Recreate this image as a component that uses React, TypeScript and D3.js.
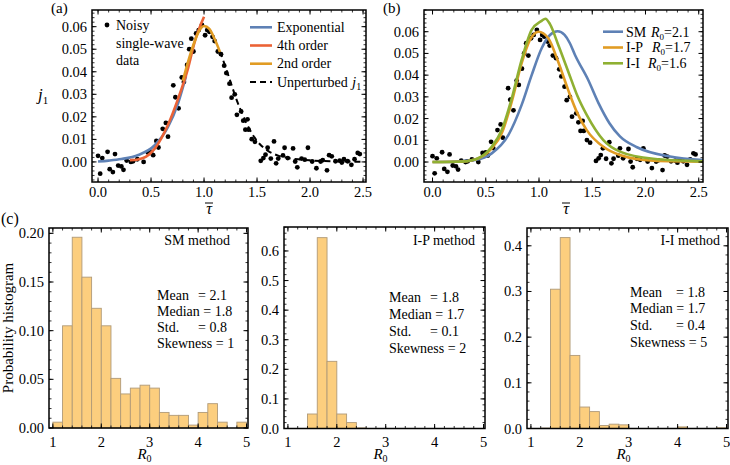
import React from 'react';
import * as d3 from 'd3';

const FONT = '"Liberation Serif", "Times New Roman", Times, serif';
const C_BLUE = '#5e81b5';
const C_ORANGE = '#e19c24';
const C_GREEN = '#8fb032';
const C_RED = '#eb6235';
const BAR_FILL = '#fcce7e';
const BAR_EDGE = '#b09a78';

// noisy single-wave data, shared by (a) and (b)
const NOISY_TAU = [
  0.0, 0.02, 0.04, 0.09, 0.11, 0.14, 0.16, 0.19, 0.22, 0.24, 0.27, 0.31, 0.33, 0.37, 0.43,
  0.47, 0.5, 0.52, 0.55, 0.57, 0.61, 0.64, 0.66, 0.71, 0.73, 0.76, 0.79, 0.81, 0.84, 0.86,
  0.88, 0.9, 0.925, 0.95, 0.98, 1.01, 1.03, 1.05, 1.08, 1.1, 1.13, 1.16, 1.19, 1.21, 1.24,
  1.26, 1.29, 1.31, 1.35, 1.37, 1.39, 1.41, 1.42, 1.45, 1.48, 1.535, 1.56, 1.58, 1.6, 1.63,
  1.66, 1.68, 1.7, 1.745, 1.76, 1.79, 1.84, 1.86, 1.88, 1.92, 1.95, 1.98, 2.02, 2.06, 2.1,
  2.12, 2.16, 2.18, 2.205, 2.24, 2.28, 2.3, 2.32, 2.355, 2.39, 2.42, 2.45, 2.47,
];
const NOISY_J = [
  0.0027, -0.0052, 0.0017, 0.0045, -0.0032, -0.0045, 0.0035, -0.0016, -0.002, -0.0035, 0.0006, 0.0, 0.0003, 0.0012, 0.0,
  0.0042, 0.0044, 0.003, 0.0093, 0.0064, 0.0147, 0.0173, 0.0112, 0.034, 0.0287, 0.0238, 0.0375, 0.0355, 0.043, 0.05,
  0.0547, 0.049, 0.057, 0.0585, 0.0608, 0.0562, 0.0585, 0.0577, 0.0555, 0.0536, 0.049, 0.0478, 0.0427, 0.0394, 0.0347,
  0.0285, 0.03, 0.0209, 0.0224, 0.0183, 0.0143, 0.0189, 0.0143, 0.0101, 0.0089, 0.0005, 0.0017, 0.0032, 0.0063, 0.0015,
  0.0091, -0.0006, 0.0015, 0.0029, 0.0063, 0.0017, 0.006, 0.0002, -0.0024, 0.0015, 0.001, 0.0063, 0.0002, -0.0028, 0.0002,
  0.0008, -0.0037, 0.003, 0.0025, 0.0003, 0.0006, -0.0003, 0.0012, 0.0003, -0.0013, 0.0012, 0.004, 0.0035,
];

// (a) fitted curves
const EXP_TAU = [0.0, 0.1, 0.22, 0.38, 0.535, 0.66, 0.755, 0.83];
const EXP_J = [0.0002, 0.0006, 0.0013, 0.0031, 0.0074, 0.0155, 0.026, 0.038];
const ORD4_TAU = [0.3, 0.377, 0.45, 0.535, 0.66, 0.755, 0.849, 0.912, 1.0];
const ORD4_J = [0.0008, 0.0011, 0.0022, 0.0059, 0.0165, 0.028, 0.0415, 0.0533, 0.0644];
const ORD2_TAU = [0.8, 0.85, 0.9, 0.95, 1.0, 1.05, 1.1, 1.15];
const ORD2_J = [0.036, 0.0445, 0.052, 0.0578, 0.0603, 0.059, 0.0545, 0.0488];
const UNPERT_TAU = [1.15, 1.2, 1.25, 1.3, 1.35, 1.4, 1.45, 1.5, 1.6, 1.7, 1.8, 1.9, 2.0, 2.2, 2.5];
const UNPERT_J = [0.049, 0.0425, 0.0355, 0.0285, 0.0225, 0.0172, 0.0128, 0.0093, 0.005, 0.0028, 0.0017, 0.0011, 0.0007, 0.0003, 0.0001];

// (b) model curves
const SM_TAU = [0, 0.2, 0.4, 0.556, 0.712, 0.837, 0.931, 1.025, 1.103, 1.175, 1.24, 1.29, 1.338, 1.46, 1.56, 1.66, 1.76, 1.92, 2.23, 2.54];
const SM_J = [0, 0.0002, 0.001, 0.004, 0.0124, 0.0263, 0.04, 0.0524, 0.0585, 0.0602, 0.0585, 0.0547, 0.0493, 0.038, 0.027, 0.018, 0.0118, 0.0068, 0.0025, 0.0009];
const IP_TAU = [0, 0.243, 0.4, 0.556, 0.65, 0.744, 0.837, 0.915, 0.995, 1.087, 1.18, 1.275, 1.36, 1.448, 1.604, 1.76, 2.073, 2.54];
const IP_J = [0, 0.0001, 0.0012, 0.0063, 0.0132, 0.0278, 0.0455, 0.0562, 0.06, 0.057, 0.0462, 0.033, 0.0225, 0.0147, 0.007, 0.0032, 0.0006, 0.0002];
const II_TAU = [0, 0.243, 0.4, 0.556, 0.65, 0.744, 0.837, 0.931, 1.025, 1.06, 1.103, 1.18, 1.275, 1.36, 1.448, 1.604, 1.76, 2.073, 2.54];
const II_J = [0, 0.0001, 0.0012, 0.007, 0.0147, 0.0293, 0.047, 0.0608, 0.065, 0.066, 0.0635, 0.054, 0.0416, 0.0305, 0.0217, 0.0101, 0.0048, 0.0015, 0.0003];

// (c) histograms of R0
const BIN_START = [1.0, 1.2, 1.4, 1.6, 1.8, 2.0, 2.2, 2.4, 2.6, 2.8, 3.0, 3.2, 3.4, 3.6, 3.8, 4.0, 4.2, 4.4, 4.6, 4.8];
const BIN_WIDTH = 0.2;
const HIST_SM = [0.006, 0.105, 0.196, 0.155, 0.123, 0.105, 0.051, 0.035, 0.041, 0.044, 0.041, 0.016, 0.013, 0.013, 0.003, 0.016, 0.025, 0.006, 0, 0.006];
const HIST_IP = [0, 0, 0.049, 0.645, 0.227, 0.049, 0.02, 0.002, 0, 0, 0, 0, 0, 0, 0, 0, 0, 0, 0, 0];
const HIST_II = [0, 0.001, 0.305, 0.418, 0.16, 0.047, 0.037, 0.0065, 0.0095, 0.008, 0, 0, 0, 0, 0, 0.0035, 0, 0, 0, 0.0015];

const STAT_NAMES = ['Mean', 'Median', 'Std.', 'Skewness'];
const STATS_SM = ['2.1', '1.8', '0.8', '1'];
const STATS_IP = ['1.8', '1.7', '0.1', '2'];
const STATS_II = ['1.8', '1.7', '0.4', '5'];

const TAU_TICKS = [0, 0.5, 1, 1.5, 2, 2.5];
const J_TICKS = [0, 0.01, 0.02, 0.03, 0.04, 0.05, 0.06];
const R_TICKS = [1, 2, 3, 4, 5];
const P_TICKS_SM = [0, 0.05, 0.1, 0.15, 0.2];
const P_TICKS_IP = [0, 0.1, 0.2, 0.3, 0.4, 0.5, 0.6];
const P_TICKS_II = [0, 0.1, 0.2, 0.3, 0.4];

type Scale = d3.ScaleLinear<number, number>;

function minorTicks(s: Scale, step: number) {
  const [a, b] = s.domain();
  const start = Math.ceil(a / step - 1e-6);
  const end = Math.floor(b / step + 1e-6);
  return d3.range(start, end + 1).map((k) => k * step);
}

function Frame({ x, y, xTicks, yTicks, xMinor, yMinor, xFmt, yFmt, xLabY }: {
  x: Scale; y: Scale; xTicks: number[]; yTicks: number[]; xMinor: number; yMinor: number;
  xFmt: (v: number) => string; yFmt: (v: number) => string; xLabY: number;
}) {
  const [x0, x1] = x.range();
  const [yb, yt] = y.range();
  const ml = 2.5, mj = 4.5;
  return (
    <g>
      {minorTicks(x, xMinor).map((v, i) => (
        <g key={'xm' + i} stroke="#000" strokeWidth={0.8}>
          <line x1={x(v)} x2={x(v)} y1={yb} y2={yb - ml} />
          <line x1={x(v)} x2={x(v)} y1={yt} y2={yt + ml} />
        </g>
      ))}
      {minorTicks(y, yMinor).map((v, i) => (
        <g key={'ym' + i} stroke="#000" strokeWidth={0.8}>
          <line x1={x0} x2={x0 + ml} y1={y(v)} y2={y(v)} />
          <line x1={x1} x2={x1 - ml} y1={y(v)} y2={y(v)} />
        </g>
      ))}
      {xTicks.map((v, i) => (
        <g key={'xt' + i}>
          <line x1={x(v)} x2={x(v)} y1={yb} y2={yb - mj} stroke="#000" />
          <line x1={x(v)} x2={x(v)} y1={yt} y2={yt + mj} stroke="#000" />
          <text x={x(v)} y={xLabY} textAnchor="middle" fontSize={14.5}>{xFmt(v)}</text>
        </g>
      ))}
      {yTicks.map((v, i) => (
        <g key={'yt' + i}>
          <line x1={x0} x2={x0 + mj} y1={y(v)} y2={y(v)} stroke="#000" />
          <line x1={x1} x2={x1 - mj} y1={y(v)} y2={y(v)} stroke="#000" />
          <text x={x0 - 5} y={y(v) + 5} textAnchor="end" fontSize={14.5}>{yFmt(v)}</text>
        </g>
      ))}
      <rect x={x0} y={yt} width={x1 - x0} height={yb - yt} fill="none" stroke="#000" strokeWidth={1.5} />
    </g>
  );
}

function curve(x: Scale, y: Scale, ts: number[], js: number[]) {
  return d3.line<number>()
    .x((t) => x(t))
    .y((_, i) => y(js[i]))
    .curve(d3.curveMonotoneX)(ts) as string;
}

function TauLabel({ cx }: { cx: number }) {
  return (
    <g>
      <text x={cx} y={214} textAnchor="middle" fontSize={16} fontStyle="italic">τ</text>
      <line x1={cx - 4} x2={cx + 4} y1={203} y2={203} stroke="#000" strokeWidth={1} />
    </g>
  );
}

function Dots({ x, y }: { x: Scale; y: Scale }) {
  return (
    <g>
      {NOISY_TAU.map((t, i) => (
        <circle key={i} cx={x(t)} cy={y(NOISY_J[i])} r={2.4} fill="#000" />
      ))}
    </g>
  );
}

function Hist({ x, y, values, ticks, yFmt, yMinor, title, titleX, statX, eqDx, rows, stats }: {
  x: Scale; y: Scale; values: number[]; ticks: number[]; yFmt: (v: number) => string; yMinor: number;
  title: string; titleX: number; statX: number; eqDx: number; rows: number[]; stats: string[];
}) {
  const [x0, x1] = x.range();
  return (
    <g>
      {values.map((v, i) => v > 0 && (
        <rect key={i} x={x(BIN_START[i])} width={x(BIN_START[i] + BIN_WIDTH) - x(BIN_START[i])}
          y={y(v)} height={y(0) - y(v)} fill={BAR_FILL} stroke={BAR_EDGE} strokeWidth={0.9} />
      ))}
      <Frame x={x} y={y} xTicks={R_TICKS} yTicks={ticks} xMinor={0.2} yMinor={yMinor}
        xFmt={(v) => String(v)} yFmt={yFmt} xLabY={447} />
      <text x={titleX} y={245} textAnchor="end" fontSize={14}>{title}</text>
      {STAT_NAMES.map((n, i) => (
        i === 0 || i === 2 ? (
          <g key={n}>
            <text x={statX} y={rows[i]} fontSize={14}>{n}</text>
            <text x={statX + eqDx} y={rows[i]} fontSize={14}>= {stats[i]}</text>
          </g>
        ) : (
          <text key={n} x={statX} y={rows[i]} fontSize={14}>{n} = {stats[i]}</text>
        )
      ))}
      <text x={(x0 + x1) / 2 - 4} y={459} fontSize={15} textAnchor="middle" fontStyle="italic">
        R<tspan fontSize={10} dy={3} fontStyle="normal">0</tspan>
      </text>
    </g>
  );
}

export default function App() {
  const xA = d3.scaleLinear().domain([-0.057, 2.528]).range([92, 366]);
  const yA = d3.scaleLinear().domain([-0.0089, 0.0674]).range([182, 10]);
  const xB = d3.scaleLinear().domain([-0.08, 2.54]).range([424, 703]);
  const yB = d3.scaleLinear().domain([-0.0092, 0.07]).range([182, 10]);

  const xC1 = d3.scaleLinear().domain([0.92, 5.03]).range([49, 248]);
  const yC1 = d3.scaleLinear().domain([0, 0.2055]).range([428, 228]);
  const xC2 = d3.scaleLinear().domain([0.92, 5.03]).range([284, 485]);
  const yC2 = d3.scaleLinear().domain([0, 0.681]).range([428.5, 227]);
  const xC3 = d3.scaleLinear().domain([0.92, 5.03]).range([527, 728]);
  const yC3 = d3.scaleLinear().domain([0, 0.439]).range([428.5, 228]);

  const f2 = d3.format('.2f');
  const f1 = d3.format('.1f');

  return (
    <svg width={730} height={465} style={{ position: 'absolute', left: 0, top: 0, background: '#fff' }}
      fontFamily={FONT} fill="#000">
      <defs>
        <clipPath id="clipA"><rect x={92} y={10} width={274} height={172} /></clipPath>
        <clipPath id="clipB"><rect x={424} y={10} width={279} height={172} /></clipPath>
      </defs>

      {/* (a) */}
      <text x={51} y={13} fontSize={15}>(a)</text>
      <g clipPath="url(#clipA)">
        <Dots x={xA} y={yA} />
        <path d={curve(xA, yA, UNPERT_TAU, UNPERT_J)} fill="none" stroke="#000" strokeWidth={2} strokeDasharray="6,4" />
        <path d={curve(xA, yA, EXP_TAU, EXP_J)} fill="none" stroke={C_BLUE} strokeWidth={2.6} />
        <path d={curve(xA, yA, ORD4_TAU, ORD4_J)} fill="none" stroke={C_RED} strokeWidth={2.6} />
        <path d={curve(xA, yA, ORD2_TAU, ORD2_J)} fill="none" stroke={C_ORANGE} strokeWidth={2.6} />
      </g>
      <Frame x={xA} y={yA} xTicks={TAU_TICKS} yTicks={J_TICKS} xMinor={0.1} yMinor={0.002}
        xFmt={f1} yFmt={f2} xLabY={197} />
      <text x={38} y={100} fontSize={17} fontStyle="italic">
        j<tspan fontSize={11} dy={4} fontStyle="normal">1</tspan>
      </text>
      <TauLabel cx={209} />
      <circle cx={107} cy={25} r={2.4} fill="#000" />
      <text x={116} y={30} fontSize={14}>Noisy</text>
      <text x={116} y={48} fontSize={14}>single-wave</text>
      <text x={116} y={65} fontSize={14}>data</text>
      {[
        { c: C_BLUE, t: 'Exponential', dash: '' },
        { c: C_RED, t: '4th order', dash: '' },
        { c: C_ORANGE, t: '2nd order', dash: '' },
        { c: '#000', t: 'Unperturbed', dash: '6,4' },
      ].map((d, i) => (
        <g key={d.t}>
          <line x1={250} x2={272} y1={27.3 + i * 18.2} y2={27.3 + i * 18.2} stroke={d.c}
            strokeWidth={d.dash ? 2 : 2.6} strokeDasharray={d.dash || undefined} />
          <text x={277} y={32 + i * 18.2} fontSize={14}>{d.t}</text>
        </g>
      ))}
      <text x={352} y={86.6} fontSize={15} fontStyle="italic">
        j<tspan fontSize={10} dy={3} fontStyle="normal">1</tspan>
      </text>

      {/* (b) */}
      <text x={383} y={13} fontSize={15}>(b)</text>
      <g clipPath="url(#clipB)">
        <Dots x={xB} y={yB} />
        <path d={curve(xB, yB, SM_TAU, SM_J)} fill="none" stroke={C_BLUE} strokeWidth={2.6} />
        <path d={curve(xB, yB, IP_TAU, IP_J)} fill="none" stroke={C_ORANGE} strokeWidth={2.6} />
        <path d={curve(xB, yB, II_TAU, II_J)} fill="none" stroke={C_GREEN} strokeWidth={2.6} />
      </g>
      <Frame x={xB} y={yB} xTicks={TAU_TICKS} yTicks={J_TICKS} xMinor={0.1} yMinor={0.002}
        xFmt={f1} yFmt={f2} xLabY={197} />
      <TauLabel cx={566} />
      {[
        { c: C_BLUE, t: 'SM', r: 651, v: '=2.1' },
        { c: C_ORANGE, t: 'I-P', r: 652, v: '=1.7' },
        { c: C_GREEN, t: 'I-I', r: 648, v: '=1.6' },
      ].map((d, i) => (
        <g key={d.t}>
          <line x1={603} x2={623} y1={31.7 + i * 15.8} y2={31.7 + i * 15.8} stroke={d.c} strokeWidth={2.6} />
          <text x={626} y={36.5 + i * 15.8} fontSize={14}>{d.t}</text>
          <text x={d.r} y={36.5 + i * 15.8} fontSize={14}>
            <tspan fontStyle="italic">R</tspan>
            <tspan fontSize={9} dy={3}>0</tspan>
            <tspan dy={-3}>{d.v}</tspan>
          </text>
        </g>
      ))}

      {/* (c) */}
      <text x={1} y={224} fontSize={16}>(c)</text>
      <text transform="translate(13,328) rotate(-90)" textAnchor="middle" fontSize={15}>Probability histogram</text>
      <Hist x={xC1} y={yC1} values={HIST_SM} ticks={P_TICKS_SM} yFmt={f2} yMinor={0.01}
        title="SM method" titleX={230} statX={157} eqDx={41} rows={[300, 316, 332, 348]} stats={STATS_SM} />
      <Hist x={xC2} y={yC2} values={HIST_IP} ticks={P_TICKS_IP} yFmt={f1} yMinor={0.02}
        title="I-P method" titleX={475} statX={389} eqDx={41} rows={[302, 319, 336, 353]} stats={STATS_IP} />
      <Hist x={xC3} y={yC3} values={HIST_II} ticks={P_TICKS_II} yFmt={f1} yMinor={0.02}
        title="I-I method" titleX={720} statX={630} eqDx={46} rows={[297, 313, 330, 347]} stats={STATS_II} />
    </svg>
  );
}
